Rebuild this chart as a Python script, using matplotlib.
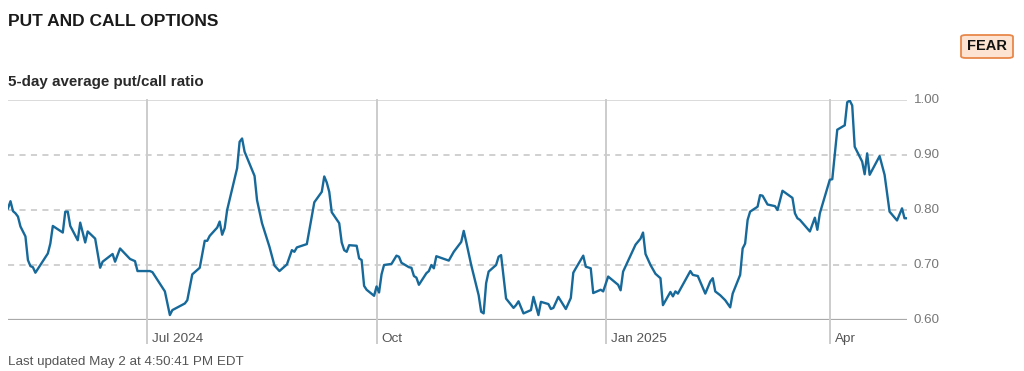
import matplotlib
matplotlib.use("Agg")
import matplotlib.pyplot as plt
import matplotlib.dates as mdates
from matplotlib.patches import FancyBboxPatch
import pandas as pd

plt.rcParams['font.family'] = ['Liberation Sans', 'DejaVu Sans']

title = "PUT AND CALL OPTIONS"
subtitle = "5-day average put/call ratio"
footer = "Last updated May 2 at 4:50:41 PM EDT"
badge = "FEAR"

dates = [
    "2024-05-06", "2024-05-07", "2024-05-08", "2024-05-09", "2024-05-10", "2024-05-11",
    "2024-05-13", "2024-05-14", "2024-05-15", "2024-05-16", "2024-05-17", "2024-05-22",
    "2024-05-23", "2024-05-24", "2024-05-28", "2024-05-29", "2024-05-30", "2024-05-31",
    "2024-06-03", "2024-06-04", "2024-06-06", "2024-06-07", "2024-06-10", "2024-06-12",
    "2024-06-13", "2024-06-17", "2024-06-18", "2024-06-20", "2024-06-24", "2024-06-26",
    "2024-06-27", "2024-07-02", "2024-07-03", "2024-07-05", "2024-07-08", "2024-07-10",
    "2024-07-11", "2024-07-16", "2024-07-17", "2024-07-19", "2024-07-22", "2024-07-24",
    "2024-07-25", "2024-07-26", "2024-07-29", "2024-07-30", "2024-07-31", "2024-08-01",
    "2024-08-02", "2024-08-06", "2024-08-07", "2024-08-08", "2024-08-09", "2024-08-13",
    "2024-08-14", "2024-08-16", "2024-08-19", "2024-08-21", "2024-08-23", "2024-08-26",
    "2024-08-28", "2024-08-29", "2024-08-30", "2024-09-03", "2024-09-06", "2024-09-09",
    "2024-09-10", "2024-09-11", "2024-09-12", "2024-09-13", "2024-09-16", "2024-09-17",
    "2024-09-18", "2024-09-19", "2024-09-20", "2024-09-23", "2024-09-24", "2024-09-25",
    "2024-09-26", "2024-09-27", "2024-09-30", "2024-10-01", "2024-10-02", "2024-10-03",
    "2024-10-04", "2024-10-07", "2024-10-09", "2024-10-10", "2024-10-11", "2024-10-14",
    "2024-10-15", "2024-10-16", "2024-10-17", "2024-10-18", "2024-10-21", "2024-10-22",
    "2024-10-23", "2024-10-24", "2024-10-25", "2024-10-30", "2024-11-01", "2024-11-04",
    "2024-11-05", "2024-11-06", "2024-11-08", "2024-11-11", "2024-11-12", "2024-11-13",
    "2024-11-14", "2024-11-15", "2024-11-18", "2024-11-19", "2024-11-20", "2024-11-22",
    "2024-11-25", "2024-11-26", "2024-11-27", "2024-11-29", "2024-12-02", "2024-12-03",
    "2024-12-05", "2024-12-06", "2024-12-09", "2024-12-10", "2024-12-11", "2024-12-13",
    "2024-12-16", "2024-12-18", "2024-12-19", "2024-12-20", "2024-12-23", "2024-12-24",
    "2024-12-26", "2024-12-27", "2024-12-30", "2024-12-31", "2025-01-02", "2025-01-06",
    "2025-01-07", "2025-01-08", "2025-01-13", "2025-01-15", "2025-01-16", "2025-01-17",
    "2025-01-19", "2025-01-21", "2025-01-23", "2025-01-24", "2025-01-27", "2025-01-28",
    "2025-01-29", "2025-01-30", "2025-02-04", "2025-02-05", "2025-02-07", "2025-02-10",
    "2025-02-12", "2025-02-13", "2025-02-14", "2025-02-16", "2025-02-18", "2025-02-20",
    "2025-02-21", "2025-02-24", "2025-02-25", "2025-02-26", "2025-02-27", "2025-02-28",
    "2025-03-03", "2025-03-04", "2025-03-05", "2025-03-07", "2025-03-10", "2025-03-11",
    "2025-03-13", "2025-03-17", "2025-03-18", "2025-03-19", "2025-03-20", "2025-03-24",
    "2025-03-26", "2025-03-27", "2025-03-28", "2025-04-01", "2025-04-02", "2025-04-04",
    "2025-04-07", "2025-04-08", "2025-04-09", "2025-04-10", "2025-04-11", "2025-04-13",
    "2025-04-14", "2025-04-15", "2025-04-16", "2025-04-17", "2025-04-21", "2025-04-23",
    "2025-04-25", "2025-04-28", "2025-04-30", "2025-05-01", "2025-05-02",
]

ratio = [
    0.803, 0.816, 0.798, 0.794, 0.788, 0.770,
    0.752, 0.709, 0.698, 0.696, 0.686, 0.721,
    0.739, 0.771, 0.759, 0.797, 0.797, 0.771,
    0.745, 0.777, 0.741, 0.761, 0.748, 0.695,
    0.706, 0.720, 0.706, 0.730, 0.711, 0.707,
    0.689, 0.689, 0.687, 0.673, 0.652, 0.609,
    0.618, 0.630, 0.636, 0.683, 0.695, 0.744,
    0.744, 0.753, 0.768, 0.779, 0.755, 0.767,
    0.800, 0.876, 0.924, 0.930, 0.906, 0.862,
    0.818, 0.776, 0.733, 0.699, 0.689, 0.701,
    0.727, 0.724, 0.732, 0.738, 0.814, 0.833,
    0.861, 0.850, 0.833, 0.796, 0.776, 0.741,
    0.727, 0.724, 0.736, 0.735, 0.712, 0.709,
    0.662, 0.655, 0.644, 0.661, 0.650, 0.683,
    0.700, 0.702, 0.717, 0.715, 0.704, 0.696,
    0.695, 0.680, 0.677, 0.664, 0.685, 0.689,
    0.700, 0.694, 0.716, 0.708, 0.724, 0.742,
    0.762, 0.742, 0.700, 0.645, 0.615, 0.612,
    0.667, 0.688, 0.700, 0.715, 0.718, 0.639,
    0.622, 0.627, 0.634, 0.612, 0.618, 0.642,
    0.609, 0.633, 0.629, 0.620, 0.622, 0.642,
    0.620, 0.640, 0.686, 0.694, 0.717, 0.697,
    0.694, 0.649, 0.655, 0.652, 0.679, 0.664,
    0.654, 0.688, 0.737, 0.748, 0.759, 0.720,
    0.700, 0.684, 0.676, 0.627, 0.651, 0.643,
    0.652, 0.648, 0.689, 0.682, 0.680, 0.648,
    0.670, 0.676, 0.652, 0.645, 0.636, 0.623,
    0.648, 0.682, 0.730, 0.739, 0.782, 0.797,
    0.806, 0.827, 0.826, 0.810, 0.807, 0.800,
    0.835, 0.822, 0.794, 0.785, 0.782, 0.761,
    0.786, 0.764, 0.794, 0.855, 0.856, 0.946,
    0.954, 0.996, 0.999, 0.990, 0.915, 0.897,
    0.888, 0.865, 0.903, 0.864, 0.898, 0.864,
    0.797, 0.781, 0.803, 0.785, 0.785,
]

month_ticks = ["2024-07-01", "2024-10-01", "2025-01-01", "2025-04-01"]
month_labels = ["Jul 2024", "Oct", "Jan 2025", "Apr"]
y_ticks = [0.60, 0.70, 0.80, 0.90, 1.00]
y_labels = ["0.60", "0.70", "0.80", "0.90", "1.00"]
x_range = ["2024-05-06", "2025-05-02"]

W, H = 1024, 371
fig = plt.figure(figsize=(W / 100, H / 100), dpi=100)
ax = fig.add_axes([8 / W, 51 / H, 899 / W, 220 / H])

x = pd.to_datetime(dates)
ax.set_xlim(pd.to_datetime(x_range[0]), pd.to_datetime(x_range[1]))
ax.set_ylim(y_ticks[0], y_ticks[-1])

for s in ax.spines.values():
    s.set_visible(False)

# horizontal grid
for v in y_ticks:
    if v == y_ticks[0]:
        ax.axhline(v, color="#a9a9a9", lw=1.6, zorder=1)
    elif v == y_ticks[-1]:
        ax.axhline(v, color="#d4d4d4", lw=1.2, zorder=1)
    else:
        ax.axhline(v, color="#c4c4c4", lw=1.1, ls=(0, (4, 3.5)), zorder=1)

# vertical month lines extending below the axis
for d, lab in zip(month_ticks, month_labels):
    xd = pd.to_datetime(d)
    ax.plot([xd, xd], [-0.105, 1.0], transform=ax.get_xaxis_transform(),
            color="#cccccc", lw=1.4, clip_on=False, zorder=1)
    ax.annotate(lab, xy=(xd, 0), xycoords=("data", "axes fraction"),
                xytext=(3.5, -9.5), textcoords="offset points",
                ha="left", va="top", fontsize=9.7, color="#555555")

ax.set_xticks([])
ax.set_yticks([])

# right y labels
for v, lab in zip(y_ticks, y_labels):
    ax.annotate(lab, xy=(1, v), xycoords=("axes fraction", "data"),
                xytext=(5, 0), textcoords="offset points",
                ha="left", va="center", fontsize=9.6, color="#777777")

ax.plot(x, ratio, color="#17699a", lw=1.7, solid_joinstyle="round", zorder=3)

fig.text(8 / W, 1 - 22 / H, title, fontsize=12.5, fontweight="bold",
         color="#1a1a1a", ha="left", va="center")
fig.text(8 / W, 1 - 82 / H, subtitle, fontsize=10.9, fontweight="bold",
         color="#2a2a2a", ha="left", va="center")
fig.text(8 / W, 1 - 362 / H, footer, fontsize=9.6,
         color="#555555", ha="left", va="center")

box = FancyBboxPatch((961 / W, 1 - 58 / H), 52 / W, 23 / H,
                     boxstyle="round,pad=0,rounding_size=0.005",
                     transform=fig.transFigure, facecolor="#fde3d2",
                     edgecolor="#e8884a", lw=1.3)
fig.patches.append(box)
fig.text(987 / W, 1 - 46.5 / H, badge, fontsize=10.5, fontweight="bold",
         color="#111111", ha="center", va="center")

fig.savefig("out.png", dpi=100, facecolor="white")
